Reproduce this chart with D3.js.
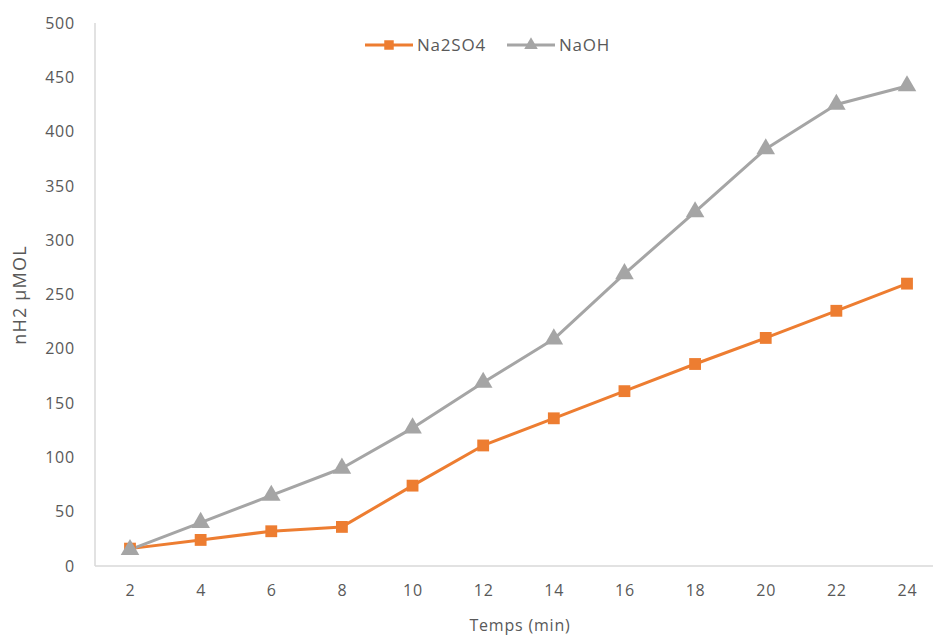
<!DOCTYPE html>
<html>
<head>
<meta charset="utf-8">
<script src="https://cdn.jsdelivr.net/npm/d3@7"></script>
<style>
  html, body { margin: 0; padding: 0; background: #fff; }
  svg { display: block; font-family: "Open Sans", "Liberation Sans", sans-serif; }
</style>
</head>
<body>
<svg id="chart" width="933" height="635"></svg>
<script>
// Hydrogen produced over time, two electrolytes
const times = [2, 4, 6, 8, 10, 12, 14, 16, 18, 20, 22, 24];
const na2so4 = [16, 24, 32, 36, 74, 111, 136, 161, 186, 210, 235, 260];
const naoh = [15, 40, 65, 90, 127, 169, 209, 269, 326, 384, 425, 442];
const yTicks = [0, 50, 100, 150, 200, 250, 300, 350, 400, 450, 500];
const seriesNames = ["Na2SO4", "NaOH"];
const seriesColors = ["#ED7D31", "#A5A5A5"];

const svg = d3.select("#chart");
const textColor = "#595959";
const axisColor = "#D9D9D9";

const plotLeft = 95, plotRight = 933, plotTop = 23, plotBottom = 566;

// Category-style x axis: each time sits at the centre of its slot
const x = d3.scaleLinear().domain([2, 24]).range([130, 907]);
const y = d3.scaleLinear().domain([0, 500]).range([plotBottom, plotTop]);

// Axis lines
svg.append("line")
  .attr("x1", plotLeft).attr("x2", plotLeft)
  .attr("y1", plotTop).attr("y2", plotBottom)
  .attr("stroke", axisColor).attr("stroke-width", 1.5);
svg.append("line")
  .attr("x1", plotLeft).attr("x2", plotRight)
  .attr("y1", plotBottom).attr("y2", plotBottom)
  .attr("stroke", axisColor).attr("stroke-width", 1.5);

// Y tick labels
const yAxis = d3.axisLeft(y).tickValues(yTicks).tickSize(0).tickPadding(20);
const gy = svg.append("g").attr("transform", `translate(${plotLeft},0)`).call(yAxis);
gy.select(".domain").remove();
gy.selectAll("text").attr("fill", textColor).attr("font-size", 16)
  .attr("letter-spacing", 0.8)
  .attr("font-family", "'Open Sans', sans-serif");

// X tick labels
const xAxis = d3.axisBottom(x).tickValues(times).tickSize(0).tickPadding(19);
const gx = svg.append("g").attr("transform", `translate(0,${plotBottom})`).call(xAxis);
gx.select(".domain").remove();
gx.selectAll("text").attr("fill", textColor).attr("font-size", 16)
  .attr("letter-spacing", 0.8)
  .attr("font-family", "'Open Sans', sans-serif");

// Axis titles
svg.append("text")
  .attr("x", 520).attr("y", 631)
  .attr("text-anchor", "middle")
  .attr("fill", textColor).attr("font-size", 16)
  .attr("letter-spacing", 0.8)
  .text("Temps (min)");
svg.append("text")
  .attr("transform", "translate(26,295) rotate(-90)")
  .attr("text-anchor", "middle")
  .attr("fill", textColor).attr("font-size", 18)
  .attr("letter-spacing", 1.2)
  .text("nH2 µMOL");

// Series
const series = [
  { name: seriesNames[0], values: na2so4, color: seriesColors[0], symbol: d3.symbolSquare, size: 140 },
  { name: seriesNames[1], values: naoh, color: seriesColors[1], symbol: d3.symbolTriangle, size: 150 }
];

const line = d3.line().x((d, i) => x(times[i])).y(d => y(d));

series.forEach(s => {
  svg.append("path")
    .datum(s.values)
    .attr("fill", "none")
    .attr("stroke", s.color)
    .attr("stroke-width", 3)
    .attr("stroke-linejoin", "round")
    .attr("d", line);
});

series.forEach(s => {
  svg.selectAll(null)
    .data(s.values)
    .enter().append("path")
    .attr("transform", (d, i) => `translate(${x(times[i])},${y(d)})`)
    .attr("d", d3.symbol().type(s.symbol).size(s.size))
    .attr("fill", s.color);
});

// Legend
const legendItems = [
  { x0: 365, series: series[0] },
  { x0: 507, series: series[1] }
];
legendItems.forEach(item => {
  const g = svg.append("g").attr("transform", `translate(${item.x0},45)`);
  g.append("line").attr("x1", 0).attr("x2", 48).attr("y1", 0).attr("y2", 0)
    .attr("stroke", item.series.color).attr("stroke-width", 3);
  g.append("path").attr("transform", "translate(24,0)")
    .attr("d", d3.symbol().type(item.series.symbol).size(item.series === series[0] ? 90 : 80))
    .attr("fill", item.series.color);
  g.append("text").attr("x", 52).attr("y", 6)
    .attr("fill", textColor).attr("font-size", 17)
    .attr("letter-spacing", 0.8)
    .text(item.series.name);
});
</script>
</body>
</html>
